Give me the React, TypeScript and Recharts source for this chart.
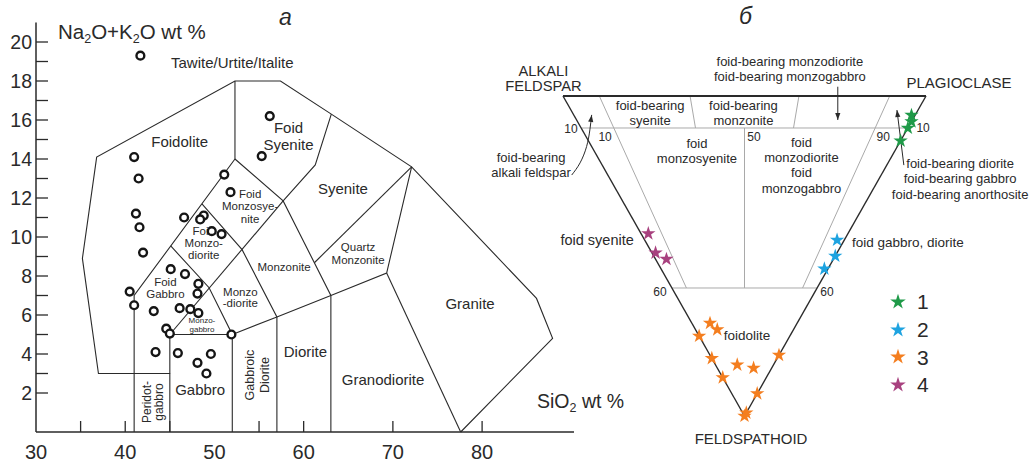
import React from "react";
import { Legend, Scatter, ScatterChart, Symbols, XAxis, YAxis, ZAxis } from "recharts";

const FONT = '"Liberation Sans", Arial, Helvetica, sans-serif';
const INK = "#2a2a2a";
const THIN = "#a9a9a9";

// ---------- а: TAS diagram for plutonic rocks ----------
const sio2 = [41.7, 41.0, 41.5, 41.2, 41.6, 56.2, 55.3, 51.1, 51.8, 46.6, 48.8, 48.4, 49.7, 50.8, 42.0, 45.1, 46.7, 48.2, 48.1, 40.5, 41.0, 43.2, 46.1, 47.3, 48.2, 44.6, 45.0, 51.9, 43.4, 45.9, 49.6, 48.1, 49.1];
const alkalis = [19.3, 14.1, 13.0, 11.2, 10.5, 16.2, 14.15, 13.2, 12.3, 11.0, 11.1, 10.9, 10.3, 10.15, 9.2, 8.35, 8.1, 7.6, 7.1, 7.2, 6.5, 6.2, 6.35, 6.3, 6.1, 5.3, 5.05, 5.0, 4.1, 4.05, 4.0, 3.55, 3.0];

const xTickValues = [30, 35, 40, 45, 50, 55, 60, 70, 80];
const xTickMarks = [35, 40, 45, 55, 60, 70, 80];
const xTickLabels = [30, 40, 50, 60, 70, 80];
const yTickValues = [2, 3, 4, 5, 6, 7, 8, 9, 10, 11, 12, 13, 14, 15, 16, 17, 18, 19, 20];
const yTickLabels = [2, 4, 6, 8, 10, 12, 14, 16, 18, 20];

// field boundaries, [SiO2, Na2O+K2O]
const tasFields: number[][][] = [
  [[45, 0], [45, 3], [37, 3], [35.2, 8.9], [36.8, 14.1], [52.3, 18], [57.4, 18], [63.1, 16.3], [72.1, 13.6], [86.1, 6.85], [87.9, 4.8], [77.6, 0]],
  [[52.3, 18], [52.3, 14]],
  [[52.3, 14], [41, 7], [41, 0]],
  [[52.3, 14], [57.7, 11.85], [63.05, 7], [63.05, 0]],
  [[57.7, 11.85], [61.3, 13.7], [63.1, 16.3]],
  [[57.7, 11.85], [45, 5]],
  [[48.6, 11.7], [53.1, 9.35], [57, 5.9], [57, 0]],
  [[45.1, 9.54], [49.4, 7.4], [52, 5], [52, 0]],
  [[45, 3], [45, 5], [52, 5]],
  [[52, 5], [57, 5.9], [63.05, 7], [69.3, 8.15], [72.1, 13.6]],
  [[61.2, 8.68], [72.1, 13.6]],
  [[69.3, 8.15], [77.6, 0]],
];

const tasLabels = [
  { x: 52.0, y: 18.92, lines: ["Tawite/Urtite/Italite"], fs: 15 },
  { x: 46.1, y: 14.87, lines: ["Foidolite"], fs: 15 },
  { x: 58.3, y: 15.15, lines: ["Foid", "Syenite"], fs: 15, lh: 17 },
  { x: 54.0, y: 11.59, lines: ["Foid", "Monzosye-", "nite"], fs: 11.5, lh: 12.5 },
  { x: 48.8, y: 9.69, lines: ["Foid", "Monzo-", "diorite"], fs: 11.5, lh: 12 },
  { x: 44.5, y: 7.38, lines: ["Foid", "Gabbro"], fs: 11.5, lh: 12 },
  { x: 48.6, y: 5.51, lines: ["Monzo-", "gabbro"], fs: 8, lh: 8.5 },
  { x: 52.9, y: 6.9, lines: ["Monzo", "-diorite"], fs: 11.5, lh: 11.5 },
  { x: 57.8, y: 8.46, lines: ["Monzonite"], fs: 11.5 },
  { x: 48.4, y: 2.15, lines: ["Gabbro"], fs: 15 },
  { x: 43.1, y: 1.54, lines: ["Peridot-", "gabbro"], fs: 12, lh: 12, rot: -90 },
  { x: 54.8, y: 2.92, lines: ["Gabbroic", "Diorite"], fs: 12.5, lh: 15, rot: -90 },
  { x: 60.2, y: 4.1, lines: ["Diorite"], fs: 15 },
  { x: 64.4, y: 12.5, lines: ["Syenite"], fs: 15 },
  { x: 66.1, y: 9.15, lines: ["Quartz", "Monzonite"], fs: 11.5, lh: 13 },
  { x: 78.65, y: 6.6, lines: ["Granite"], fs: 15 },
  { x: 68.9, y: 2.67, lines: ["Granodiorite"], fs: 15 },
];

// ---------- б: A–P–F ternary, compositions [A, P, F] % ----------
const group1 = [[1, 93, 6], [0, 92, 8], [0, 90, 10], [0, 86, 14]];
const group2 = [[2, 53, 45], [0, 50, 50], [1, 45, 54]];
const group3 = [[24, 5, 71], [21, 6, 73], [25, 0, 75], [18, 0, 82], [10, 6, 84], [5, 10, 85], [12, 0, 88], [0, 19, 81], [0, 7, 93], [0, 1, 99], [0, 0, 100]];
const group4 = [[55, 2, 43], [50, 1, 49], [46, 3, 51]];
const groupNames = ["1", "2", "3", "4"];
const groupColors = ["#1f9a48", "#1ea3e0", "#f47e1f", "#a8417f"];

const ternTop = [[100, 0, 0], [0, 100, 0]];
const ternSides = [[[100, 0, 0], [0, 0, 100]], [[0, 100, 0], [0, 0, 100]]];
const ternGuides = [
  [[90, 0, 10], [0, 90, 10]],
  [[40, 0, 60], [0, 40, 60]],
  [[90, 10, 0], [36, 4, 60]],
  [[10, 90, 0], [4, 36, 60]],
  [[65, 35, 0], [58.5, 31.5, 10]],
  [[35, 65, 0], [31.5, 58.5, 10]],
  [[45, 45, 10], [20, 20, 60]],
];

// annotation arrows in plot units [x, F]; head = direction of the tip in degrees
const ternArrows = [
  { pts: [[0.757, -0.029], [0.757, 0.075]], head: 90 },
  { pts: [[0.939, 0.216], [0.92, 0.044]], head: -97 },
  { pts: [[0.024, 0.247], [0.047, 0.209], [0.065, 0.158], [0.074, 0.106], [0.079, 0.059]], head: -82 },
];

const ternLabels = [
  { x: -0.054, y: -0.055, lines: ["ALKALI", "FELDSPAR"], fs: 14.7, lh: 15 },
  { x: 1.091, y: -0.041, lines: ["PLAGIOCLASE"], fs: 15 },
  { x: 0.518, y: 1.072, lines: ["FELDSPATHOID"], fs: 15 },
  { x: 0.625, y: -0.083, lines: ["foid-bearing monzodiorite", "foid-bearing monzogabbro"], fs: 13, lh: 15 },
  { x: 0.24, y: 0.052, lines: ["foid-bearing", "syenite"], fs: 13, lh: 15 },
  { x: 0.497, y: 0.052, lines: ["foid-bearing", "monzonite"], fs: 13, lh: 15 },
  { x: 0.369, y: 0.172, lines: ["foid", "monzosyenite"], fs: 13, lh: 15 },
  { x: 0.657, y: 0.216, lines: ["foid", "monzodiorite", "foid", "monzogabbro"], fs: 13, lh: 15.3 },
  { x: -0.088, y: 0.217, lines: ["foid-bearing", "alkali feldspar"], fs: 13, lh: 15 },
  { x: 1.094, y: 0.258, lines: ["foid-bearing diorite", "foid-bearing gabbro", "foid-bearing anorthosite"], fs: 13, lh: 15.5 },
  { x: 0.95, y: 0.456, lines: ["foid gabbro, diorite"], fs: 13.5 },
  { x: 0.094, y: 0.45, lines: ["foid syenite"], fs: 14.5 },
  { x: 0.507, y: 0.747, lines: ["foidolite"], fs: 13.5 },
  { x: 0.022, y: 0.103, lines: ["10"], fs: 12 },
  { x: 0.116, y: 0.128, lines: ["10"], fs: 12 },
  { x: 0.526, y: 0.128, lines: ["50"], fs: 12 },
  { x: 0.882, y: 0.128, lines: ["90"], fs: 12 },
  { x: 0.992, y: 0.1, lines: ["10"], fs: 12 },
  { x: 0.267, y: 0.6125, lines: ["60"], fs: 12 },
  { x: 0.727, y: 0.6125, lines: ["60"], fs: 12 },
];

const tern = ([a, p, f]: number[]) => ({ x: (p + f / 2) / (a + p + f), y: f / (a + p + f) });
const toXY = (pts: number[][]) => pts.map(([x, y]) => ({ x, y }));

const Blank = () => <g />;

const TextMark = (p: any) => {
  const { cx, cy, payload } = p;
  const lh = payload.lh ?? payload.fs * 1.2;
  const top = cy - ((payload.lines.length - 1) * lh) / 2;
  return (
    <text textAnchor="middle" fontFamily={FONT} fontSize={payload.fs} fill={INK}
      transform={payload.rot ? `rotate(${payload.rot} ${cx} ${cy})` : undefined}>
      {payload.lines.map((t: string, i: number) => (
        <tspan key={i} x={cx} y={top + i * lh} dy="0.35em">{t}</tspan>
      ))}
    </text>
  );
};

const Ring = (p: any) => <circle cx={p.cx} cy={p.cy} r={3.9} fill="#fff" stroke="#151515" strokeWidth={2.4} />;

const YTick = ({ x, y, payload }: any) => (
  <g>
    <line x1={x} x2={x + 12} y1={y} y2={y} stroke={INK} strokeWidth={1.3} />
    {yTickLabels.includes(payload.value) && (
      <text x={x - 4} y={y} dy="0.36em" textAnchor="end" fontSize={19.5} fill={INK} fontFamily={FONT}>{payload.value}</text>
    )}
  </g>
);

const XTick = ({ x, y, payload }: any) => (
  <g>
    {xTickMarks.includes(payload.value) && <line x1={x} x2={x} y1={y} y2={y - 11} stroke={INK} strokeWidth={1.3} />}
    {xTickLabels.includes(payload.value) && (
      <text x={x} y={y + 26.5} textAnchor="middle" fontSize={20} fill={INK} fontFamily={FONT}>{payload.value}</text>
    )}
  </g>
);

const makeHead = (angle: number) => (p: any) => {
  if (!p.payload.tip) return <g />;
  const a = (angle * Math.PI) / 180;
  const bx = p.cx - 7 * Math.cos(a);
  const by = p.cy - 7 * Math.sin(a);
  const nx = -Math.sin(a) * 2.6;
  const ny = Math.cos(a) * 2.6;
  return <polygon points={`${p.cx},${p.cy} ${bx + nx},${by + ny} ${bx - nx},${by - ny}`} fill={INK} />;
};

const LegendBox = ({ payload }: any) => (
  <div style={{ fontFamily: FONT, fontSize: 21, color: INK }}>
    {(payload || [])
      .filter((it: any) => it.type !== "none" && groupNames.includes(it.value))
      .map((it: any) => (
        <div key={it.value} style={{ display: "flex", alignItems: "center", height: 27.7 }}>
          <svg width={18} height={18}>
            <Symbols cx={9} cy={9} type="star" size={75} fill={it.color} />
          </svg>
          <span style={{ marginLeft: 10, lineHeight: 1 }}>{it.value}</span>
        </div>
      ))}
  </div>
);

export default function App() {
  const samples = sio2.map((s, i) => ({ x: s, y: alkalis[i] }));
  const groups = [group1, group2, group3, group4];

  return (
    <div style={{ position: "absolute", left: 0, top: 0, width: 1032, height: 463, background: "#fff" }}>
      <div style={{ position: "absolute", left: 0, top: 0 }}>
        <ScatterChart width={600} height={463} margin={{ top: 22.5, right: 26, bottom: 0, left: 0 }}>
          <XAxis type="number" dataKey="x" domain={[30, 90.3]} ticks={xTickValues} interval={0}
            tick={<XTick />} tickLine={false} tickSize={0} tickMargin={0} height={31}
            axisLine={{ stroke: INK, strokeWidth: 1.5 }} />
          <YAxis type="number" dataKey="y" domain={[0, 21]} ticks={yTickValues} interval={0}
            tick={<YTick />} tickLine={false} tickSize={0} tickMargin={0} width={36}
            axisLine={{ stroke: INK, strokeWidth: 1.5 }} />
          {tasFields.map((f, i) => (
            <Scatter key={"f" + i} data={toXY(f)} line={{ stroke: INK, strokeWidth: 1.1 }}
              shape={Blank} legendType="none" isAnimationActive={false} />
          ))}
          <Scatter data={tasLabels} shape={TextMark} legendType="none" isAnimationActive={false} />
          <Scatter data={samples} shape={Ring} legendType="none" isAnimationActive={false} />
        </ScatterChart>
      </div>

      <div style={{ position: "absolute", left: 480, top: 0 }}>
        <ScatterChart width={552} height={463} margin={{ top: 0, right: 0, bottom: 0, left: 0 }}>
          <XAxis type="number" dataKey="x" domain={[-0.22865, 1.29201]} hide />
          <YAxis type="number" dataKey="y" domain={[-0.3, 1.1469]} reversed hide />
          <ZAxis range={[95, 95]} />
          {ternGuides.map((g, i) => (
            <Scatter key={"g" + i} data={g.map(tern)} line={{ stroke: THIN, strokeWidth: 1 }}
              shape={Blank} legendType="none" isAnimationActive={false} />
          ))}
          {ternSides.map((g, i) => (
            <Scatter key={"s" + i} data={g.map(tern)} line={{ stroke: INK, strokeWidth: 1.4 }}
              shape={Blank} legendType="none" isAnimationActive={false} />
          ))}
          <Scatter data={ternTop.map(tern)} line={{ stroke: INK, strokeWidth: 2.2 }}
            shape={Blank} legendType="none" isAnimationActive={false} />
          {ternArrows.map((a, i) => (
            <Scatter key={"a" + i}
              data={a.pts.map(([x, y], k) => ({ x, y, tip: k === a.pts.length - 1 }))}
              line={{ stroke: INK, strokeWidth: 1 }} lineJointType="natural"
              shape={makeHead(a.head)} legendType="none" isAnimationActive={false} />
          ))}
          <Scatter data={ternLabels} shape={TextMark} legendType="none" isAnimationActive={false} />
          {groups.map((g, i) => (
            <Scatter key={groupNames[i]} name={groupNames[i]} data={g.map(tern)} fill={groupColors[i]}
              shape="star" legendType="star" isAnimationActive={false} />
          ))}
          <Legend layout="vertical" align="center" verticalAlign="middle" content={<LegendBox />}
            wrapperStyle={{ left: 409, top: 288, width: 60 }} />
        </ScatterChart>
      </div>

      <svg width={1032} height={463} style={{ position: "absolute", left: 0, top: 0, pointerEvents: "none" }}
        fontFamily={FONT} fill={INK}>
        <text x={58} y={38.5} fontSize={20.5}>
          Na<tspan fontSize={12.5} dy={4}>2</tspan><tspan dy={-4}>O+K</tspan><tspan fontSize={12.5} dy={4}>2</tspan><tspan dy={-4}>O wt %</tspan>
        </text>
        <text x={537} y={408} fontSize={19.5}>
          SiO<tspan fontSize={12.5} dy={4}>2</tspan><tspan dy={-4}> wt %</tspan>
        </text>
        <text x={279} y={25} fontSize={23} fontStyle="italic">а</text>
        <text x={739} y={24} fontSize={23} fontStyle="italic">б</text>
      </svg>
    </div>
  );
}
